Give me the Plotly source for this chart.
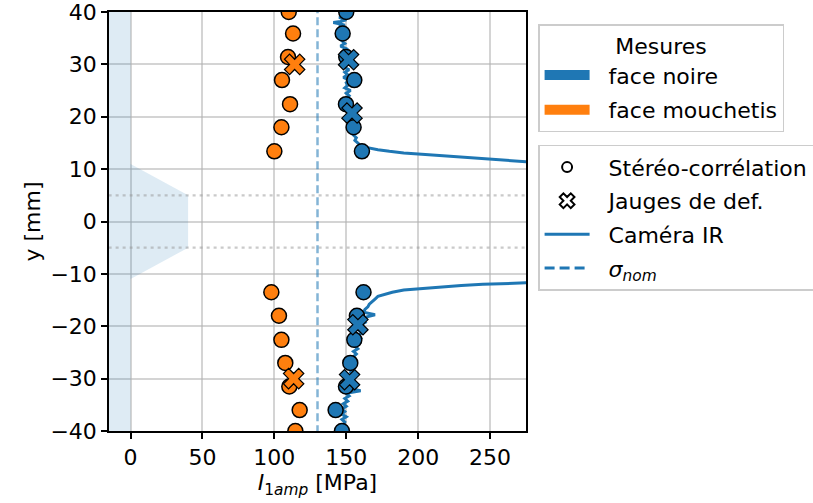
import plotly.graph_objects as go

C0 = "#1f77b4"
C1 = "#ff7f0e"

# --- Data ---------------------------------------------------------------
# Stereo-correlation points (y in mm, I1amp in MPa)
stereo_y = [40.0, 35.9, 31.4, 27.0, 22.4, 18.0, 13.4,
            -13.5, -18.0, -22.6, -27.0, -31.5, -36.0, -40.0]
stereo_noire = [150, 147.5, 150, 155.6, 149.8, 155.1, 160.9,
                162, 157.4, 155.6, 152.8, 149.8, 142.6, 147]
stereo_mouch = [110, 113, 109.5, 105.3, 110.9, 104.9, 100,
                97.9, 103.2, 104.9, 107.6, 110.4, 117.6, 114.6]

# Strain gauges
jauge_noire_y = [30.9, 20.7, -19.7, -30.2]
jauge_noire_x = [151.6, 154.0, 158.1, 152.3]
jauge_mouch_y = [30.0, -30.0]
jauge_mouch_x = [114.1, 113.4]

# IR camera profiles
ir_top_y = [40.0, 39.7, 39.5, 39.2, 39.0, 38.7, 38.5, 38.2, 38.0, 37.7, 37.5, 37.2,
            37.0, 36.5, 36.0, 35.5, 35.0, 34.5,
            34.0, 33.5, 33.0, 32.5, 32.0, 31.5, 31.0, 30.5, 30.0, 29.5, 29.0, 28.5,
            28.0, 27.5, 27.0, 26.5, 26.0, 25.5, 25.0, 24.5, 24.0, 23.5, 23.0, 22.5,
            22.0, 21.5, 21.0, 20.5, 20.0, 19.5, 19.0, 18.5, 18.0, 17.5, 17.0, 16.5,
            16.0, 15.5, 15.0, 14.5, 14.2, 14.0, 13.7, 13.4, 13.1, 12.8, 12.5, 12.2,
            12.0, 11.8, 11.6, 11.4]
ir_top_x = [147, 150, 146, 149, 145, 148, 150, 146, 141, 146, 149, 145,
            148, 145, 149, 146, 150, 147,
            149, 146, 150, 148, 151, 148, 152, 149, 151, 148, 152, 149,
            151, 148, 152, 150, 151, 149, 153, 150, 152, 150, 153, 151,
            154, 151, 154, 152, 155, 152, 155, 153, 156, 154, 157, 155,
            157, 156, 158, 160, 163, 166, 172, 180, 190, 205, 220, 235,
            245, 255, 265, 276]
ir_bot_y = [-11.7, -11.8, -12.0, -12.2, -12.5, -12.8, -13.1, -13.5, -13.9, -14.3,
            -14.8, -15.3, -15.8, -16.3, -16.8, -17.3, -17.8, -18.3, -18.8, -19.3,
            -19.8, -20.3, -20.8, -21.3, -21.8, -22.3, -22.8, -23.3, -23.8, -24.3,
            -24.8, -25.3, -25.8, -26.3, -26.8, -27.3, -27.8, -28.3, -28.8, -29.3,
            -29.8, -30.3, -30.8, -31.3, -31.8, -32.3, -32.8, -33.3, -33.8, -34.3,
            -34.8, -35.3, -35.8, -36.3, -36.8, -37.3, -37.8, -38.3, -38.8, -39.3,
            -39.8, -40.0]
ir_bot_x = [276, 260, 245, 230, 215, 200, 190, 182, 176, 172,
            170, 168, 166, 165, 163, 162, 170, 163, 161, 163,
            160, 162, 159, 161, 158, 160, 157, 159, 156, 158,
            155, 157, 155, 156, 154, 156, 153, 155, 153, 154,
            152, 153, 151, 153, 151, 160, 150, 152, 149, 151,
            148, 150, 147, 149, 147, 150, 147, 149, 148, 150,
            148, 149]

# Specimen shape (shaded area)
shape_x = [-20, 0, 0, 40, 40, 0, 0, -20]
shape_y = [-40, -40, -11, -5, 5, 11, 40, 40]

sigma_nom = 130
zone_y = [-5, 5]

x_range = [-15, 275]
y_range = [-40, 40]
x_ticks = [0, 50, 100, 150, 200, 250]
y_ticks = [-40, -30, -20, -10, 0, 10, 20, 30, 40]

FONT = "DejaVu Sans"
FS = 22
PAD = "\u00a0\u00a0"

fig = go.Figure()

# Shaded specimen shape
fig.add_trace(go.Scatter(x=shape_x, y=shape_y, fill="toself", mode="none",
                         fillcolor="rgba(31,119,180,0.15)", showlegend=False,
                         hoverinfo="skip"))

# Dotted horizontal lines
for yv in zone_y:
    fig.add_trace(go.Scatter(x=[x_range[0] - 10, x_range[1] + 10], y=[yv, yv], mode="lines",
                             line=dict(color="rgba(150,150,150,0.5)", width=2.2, dash="3px,4px"),
                             showlegend=False, hoverinfo="skip"))

# sigma_nom
fig.add_trace(go.Scatter(x=[sigma_nom, sigma_nom], y=[y_range[0] - 5, y_range[1] + 5],
                         mode="lines", line=dict(color="rgba(31,119,180,0.55)", width=2.5,
                                                 dash="8px,4px"),
                         showlegend=False))

# IR camera
fig.add_trace(go.Scatter(x=ir_top_x, y=ir_top_y, mode="lines",
                         line=dict(color=C0, width=3), showlegend=False))
fig.add_trace(go.Scatter(x=ir_bot_x, y=ir_bot_y, mode="lines",
                         line=dict(color=C0, width=3), showlegend=False))

# Stereo correlation
fig.add_trace(go.Scatter(x=stereo_mouch, y=stereo_y, mode="markers",
                         marker=dict(symbol="circle", size=15, color=C1,
                                     line=dict(color="black", width=1.5)),
                         showlegend=False))
fig.add_trace(go.Scatter(x=stereo_noire, y=stereo_y, mode="markers",
                         marker=dict(symbol="circle", size=15, color=C0,
                                     line=dict(color="black", width=1.5)),
                         showlegend=False))

# Gauges
fig.add_trace(go.Scatter(x=jauge_mouch_x, y=jauge_mouch_y, mode="markers",
                         marker=dict(symbol="x", size=18, color=C1,
                                     line=dict(color="black", width=1.2)),
                         showlegend=False))
fig.add_trace(go.Scatter(x=jauge_noire_x, y=jauge_noire_y, mode="markers",
                         marker=dict(symbol="x", size=18, color=C0,
                                     line=dict(color="black", width=1.2)),
                         showlegend=False))

# Legend 1 (faces)
fig.add_trace(go.Scatter(x=[None], y=[None], mode="lines", name=PAD + "face noire",
                         line=dict(color=C0, width=14), legend="legend",
                         legendgroup="a"))
fig.add_trace(go.Scatter(x=[None], y=[None], mode="lines", name=PAD + "face mouchetis",
                         line=dict(color=C1, width=14), legend="legend",
                         legendgroup="b"))
# Legend 2 (methods)
fig.add_trace(go.Scatter(x=[None], y=[None], mode="markers", name=PAD + "Stéréo-corrélation",
                         marker=dict(symbol="circle-open", size=10, color="black",
                                     line=dict(width=2)),
                         legend="legend2", legendgroup="c"))
fig.add_trace(go.Scatter(x=[None], y=[None], mode="markers", name=PAD + "Jauges de def.",
                         marker=dict(symbol="x-open", size=13, color="black",
                                     line=dict(width=2)),
                         legend="legend2", legendgroup="d"))
fig.add_trace(go.Scatter(x=[None], y=[None], mode="lines", name=PAD + "Caméra IR",
                         line=dict(color=C0, width=3),
                         legend="legend2", legendgroup="e"))
fig.add_trace(go.Scatter(x=[None], y=[None], mode="lines",
                         name=PAD + "<i>σ</i><sub><i>nom</i></sub>",
                         line=dict(color=C0, width=3, dash="10px,5px"),
                         legend="legend2", legendgroup="f"))

axis_common = dict(showline=True, linecolor="black", linewidth=1.5, mirror=True,
                   ticks="outside", ticklen=6, tickwidth=1.5, tickcolor="black",
                   showgrid=True, gridcolor="rgba(176,176,176,0.55)", gridwidth=1.5,
                   zeroline=False, automargin=False, ticklabeloverflow="allow",
                   tickfont=dict(family=FONT, size=FS, color="black"))

fig.update_layout(
    width=813, height=503,
    margin=dict(l=109, r=287, t=12, b=72, autoexpand=False),
    paper_bgcolor="white", plot_bgcolor="white",
    font=dict(family=FONT, size=FS, color="black"),
    xaxis=dict(range=x_range, tickvals=x_ticks,
               title=dict(text="<i>I</i><sub>1<i>amp</i></sub> [MPa]", standoff=2,
                          font=dict(family=FONT, size=FS)),
               **axis_common),
    yaxis=dict(range=y_range, tickvals=y_ticks,
               title=dict(text="y [mm]", standoff=4, font=dict(family=FONT, size=FS)),
               **axis_common),
    legend=dict(x=1.029, y=0.971, xanchor="left", yanchor="top",
                bordercolor="#cccccc", borderwidth=1.5, bgcolor="white",
                title=dict(text="Mesures", side="top center", font=dict(size=FS)),
                font=dict(size=FS), tracegroupgap=3, itemwidth=45),
    legend2=dict(x=1.029, y=0.683, xanchor="left", yanchor="top",
                 bordercolor="#cccccc", borderwidth=1.5, bgcolor="white",
                 font=dict(size=FS), tracegroupgap=2, itemwidth=45),
)

fig.write_html("out.html", config={"displayModeBar": False},
               post_script="document.body.style.margin='0';document.body.style.overflow='hidden';")
